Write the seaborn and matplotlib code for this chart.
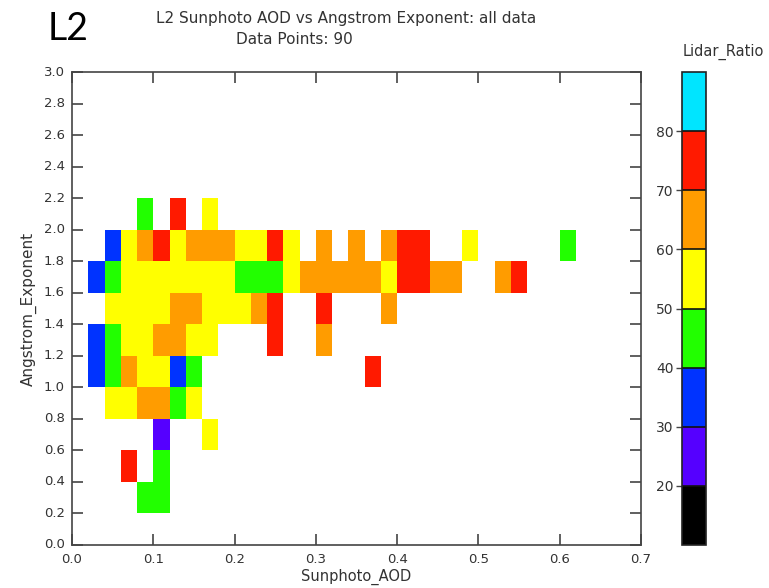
import numpy as np
import pandas as pd
import matplotlib
matplotlib.use("Agg")
import matplotlib.pyplot as plt
from matplotlib.colors import ListedColormap
import seaborn as sns

# ---- data: one cell per data point (bin centres), lidar ratio class value ----
aod = [0.09, 0.13, 0.17,
       0.05, 0.07, 0.09, 0.11, 0.13, 0.15, 0.17, 0.19, 0.21, 0.23, 0.25, 0.27, 0.31, 0.35, 0.39, 0.41, 0.43, 0.49, 0.61,
       0.03, 0.05, 0.07, 0.09, 0.11, 0.13, 0.15, 0.17, 0.19, 0.21, 0.23, 0.25, 0.27, 0.29, 0.31, 0.33, 0.35, 0.37, 0.39, 0.41, 0.43, 0.45, 0.47, 0.53, 0.55,
       0.05, 0.07, 0.09, 0.11, 0.13, 0.15, 0.17, 0.19, 0.21, 0.23, 0.25, 0.31, 0.39,
       0.03, 0.05, 0.07, 0.09, 0.11, 0.13, 0.15, 0.17, 0.25, 0.31,
       0.03, 0.05, 0.07, 0.09, 0.11, 0.13, 0.15, 0.37,
       0.05, 0.07, 0.09, 0.11, 0.13, 0.15,
       0.11, 0.17,
       0.07, 0.11,
       0.09, 0.11]
angstrom = [2.1] * 3 + [1.9] * 19 + [1.7] * 25 + [1.5] * 13 + [1.3] * 10 + [1.1] * 8 + [0.9] * 6 + [0.7] * 2 + [0.5] * 2 + [0.3] * 2
lidar_ratio = [45, 75, 55,
               35, 55, 65, 75, 55, 65, 65, 65, 55, 55, 75, 55, 65, 65, 65, 75, 75, 55, 45,
               35, 45, 55, 55, 55, 55, 55, 55, 55, 45, 45, 45, 55, 65, 65, 65, 65, 65, 55, 75, 75, 65, 65, 65, 75,
               55, 55, 55, 55, 65, 65, 55, 55, 55, 65, 75, 75, 65,
               35, 45, 55, 55, 65, 65, 55, 55, 75, 65,
               35, 45, 65, 55, 55, 35, 45, 75,
               55, 55, 65, 65, 45, 55,
               25, 55,
               75, 45,
               45, 45]

x_ticks = [0.0, 0.1, 0.2, 0.3, 0.4, 0.5, 0.6, 0.7]
y_ticks = [0.0, 0.2, 0.4, 0.6, 0.8, 1.0, 1.2, 1.4, 1.6, 1.8, 2.0, 2.2, 2.4, 2.6, 2.8, 3.0]
cbar_ticks = [20, 30, 40, 50, 60, 70, 80]
level_colors = ["#000000", "#5500ff", "#0033ff", "#22ff00", "#ffff00", "#ff9c00", "#ff1a00", "#00e5ff"]

# ---- binning into grid ----
dx, dy = 0.02, 0.2
nx, ny = int(round(0.7 / dx)), int(round(3.0 / dy))
df = pd.DataFrame({"aod": aod, "ae": angstrom, "lr": lidar_ratio})
df["ix"] = np.floor(df["aod"] / dx).astype(int)
df["iy"] = np.floor(df["ae"] / dy).astype(int)
grid = np.full((ny, nx), np.nan)
for _, r in df.iterrows():
    grid[int(r.iy), int(r.ix)] = r.lr

# ---- figure ----
sns.set_theme(style="white")
plt.rcParams["font.family"] = ["DejaVu Sans"]
fig = plt.figure(figsize=(7.69, 5.88), dpi=100)
ax = fig.add_axes([72 / 769, 1 - 545 / 588, 569 / 769, 473 / 588])
cax = fig.add_axes([682 / 769, 1 - 545 / 588, 24 / 769, 473 / 588])

cmap = ListedColormap(level_colors)
sns.heatmap(grid, ax=ax, cmap=cmap, vmin=10, vmax=90, cbar=True, cbar_ax=cax,
            cbar_kws={"ticks": cbar_ticks, "drawedges": True})
ax.set_ylim(0, ny)
ax.set_xlim(0, nx)

txt = "#333333"
for s in ax.spines.values():
    s.set_visible(True)
    s.set_color("#444444")
    s.set_linewidth(1.2)

ax.set_xticks([v / dx for v in x_ticks])
ax.set_xticklabels([f"{v:.1f}" for v in x_ticks], rotation=0)
ax.set_yticks([v / dy for v in y_ticks])
ax.set_yticklabels([f"{v:.1f}" for v in y_ticks], rotation=0)
ax.tick_params(axis="both", direction="in", top=True, right=True, bottom=True, left=True,
               length=8, width=1.2, color="#444444", labelsize=9.5, labelcolor=txt)
ax.tick_params(axis="x", pad=6)
ax.tick_params(axis="y", pad=5)
ax.set_xlabel("Sunphoto_AOD", fontsize=10.5, color=txt, labelpad=2)
ax.set_ylabel("Angstrom_Exponent", fontsize=11, color=txt, labelpad=5)

# colorbar styling
cb = ax.collections[0].colorbar
cb.outline.set_edgecolor("#222222")
cb.outline.set_linewidth(1.2)
cb.dividers.set_color("#111111")
cb.dividers.set_linewidth(1.2)
cax.yaxis.set_ticks_position("left")
cax.yaxis.set_label_position("left")
cax.tick_params(axis="y", direction="out", length=4, width=1, color="#444444",
                labelsize=10, labelcolor=txt, pad=2)

fig.text(48 / 769, 1 - 29 / 588, "L2", fontsize=27, color="black", va="center", ha="left",
         family=["Lato", "DejaVu Sans"])
fig.text(346 / 769, 1 - 19 / 588, "L2 Sunphoto AOD vs Angstrom Exponent: all data",
         fontsize=11, color=txt, ha="center", va="center")
fig.text(294 / 769, 1 - 39 / 588, "Data Points: 90", fontsize=11, color=txt, ha="center", va="center")
fig.text(723 / 769, 1 - 52 / 588, "Lidar_Ratio", fontsize=10.5, color=txt, ha="center", va="center")

fig.savefig("out.png", dpi=100)
